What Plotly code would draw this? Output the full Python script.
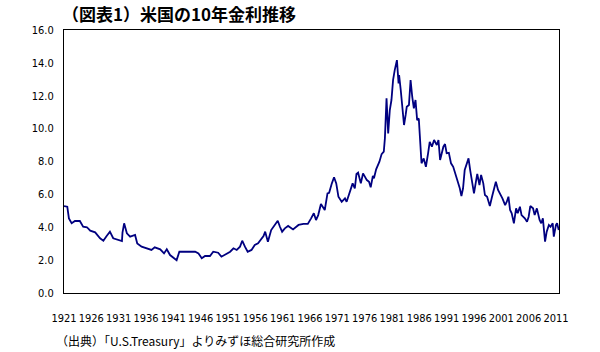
import plotly.graph_objects as go

# Data (decimal year, 10-year yield %)
years = [
    1921.0, 1921.6, 1921.9, 1922.4, 1923.0, 1923.9, 1924.5, 1925.2, 1925.8, 1926.7,
    1927.6, 1928.2, 1928.8, 1929.4, 1930.0, 1930.9, 1931.6, 1931.7, 1932.0, 1932.5,
    1933.1, 1934.0, 1934.4, 1935.2, 1936.1, 1937.0, 1937.6, 1938.6, 1939.3, 1939.8,
    1940.4, 1941.3, 1941.6, 1942.1, 1942.8, 1943.9, 1945.0, 1945.6, 1946.2, 1946.8,
    1947.7, 1948.3, 1949.2, 1949.8, 1950.8, 1951.4, 1952.0, 1952.6, 1953.2, 1953.6,
    1954.1, 1954.6, 1955.3, 1955.9, 1956.5, 1957.0, 1957.5, 1957.8, 1958.3, 1958.9,
    1959.5, 1960.1, 1960.5, 1960.9, 1961.4, 1962.0, 1962.9, 1963.9, 1964.8, 1965.6,
    1966.2, 1966.7, 1967.1, 1967.5, 1968.0, 1968.3, 1968.7, 1969.2, 1969.5, 1970.0,
    1970.4, 1970.8, 1971.2, 1971.8, 1972.4, 1972.7, 1973.3, 1973.8, 1974.2, 1974.5,
    1974.8, 1975.3, 1975.7, 1976.4, 1976.8, 1977.1, 1977.5, 1977.7, 1978.1, 1978.7,
    1979.1, 1979.5, 1979.7, 1980.0, 1980.3, 1980.6, 1980.9, 1981.2, 1981.5, 1981.9,
    1982.2, 1982.3, 1982.6, 1982.9, 1983.2, 1983.5, 1983.7, 1984.1, 1984.4, 1984.7,
    1985.0, 1985.3, 1985.6, 1985.9, 1986.1, 1986.4, 1986.8, 1987.2, 1987.6, 1987.9,
    1988.3, 1988.7, 1989.2, 1989.5, 1989.8, 1990.1, 1990.4, 1990.7, 1991.0, 1991.4,
    1991.8, 1992.2, 1992.5, 1992.8, 1993.1, 1993.4, 1993.7, 1994.0, 1994.3, 1994.7,
    1995.0, 1995.3, 1995.6, 1996.0, 1996.4, 1996.6, 1997.0, 1997.3, 1997.7, 1998.0,
    1998.4, 1998.9, 1999.3, 1999.7, 2000.0, 2000.4, 2000.9, 2001.2, 2001.7, 2002.0,
    2002.3, 2002.6, 2002.9, 2003.3, 2003.7, 2004.0, 2004.4, 2004.7, 2005.3, 2005.7,
    2006.0, 2006.3, 2006.8, 2007.1, 2007.5, 2008.0, 2008.3, 2008.6, 2009.0, 2009.3,
    2009.7, 2010.0, 2010.4, 2010.6, 2011.0, 2011.2, 2011.5,
]
rates = [
    5.29, 5.25, 4.54, 4.24, 4.38, 4.38, 4.03, 4.00, 3.79, 3.69,
    3.33, 3.18, 3.47, 3.73, 3.33, 3.22, 3.16, 3.67, 4.24, 3.63,
    3.43, 3.53, 3.02, 2.82, 2.72, 2.62, 2.78, 2.66, 2.41, 2.66,
    2.31, 2.11, 2.00, 2.51, 2.51, 2.51, 2.51, 2.41, 2.11, 2.25,
    2.25, 2.51, 2.45, 2.21, 2.41, 2.51, 2.72, 2.62, 2.82, 3.18,
    2.82, 2.51, 2.62, 2.92, 3.02, 3.27, 3.47, 3.73, 3.12, 3.83,
    4.14, 4.40, 4.03, 3.73, 3.93, 4.08, 3.87, 4.14, 4.20, 4.20,
    4.54, 4.85, 4.44, 4.74, 5.41, 5.25, 5.05, 6.06, 6.10, 6.67,
    7.04, 6.67, 5.86, 5.55, 5.76, 5.55, 6.16, 6.67, 6.37, 7.24,
    7.32, 6.67, 7.28, 6.87, 6.77, 6.43, 7.12, 6.98, 7.52, 7.99,
    8.45, 8.60, 9.41, 11.84, 9.71, 11.13, 11.74, 12.96, 13.56, 14.17,
    12.75, 13.26, 12.35, 11.13, 10.22, 10.83, 11.33, 11.44, 12.96, 11.94,
    11.23, 11.74, 10.52, 10.62, 9.31, 7.89, 8.19, 7.68, 8.50, 9.20,
    8.90, 9.31, 9.00, 9.31, 8.09, 8.60, 8.90, 9.06, 8.50, 8.53,
    7.89, 7.68, 7.38, 7.07, 6.67, 6.37, 5.90, 6.37, 7.48, 7.89,
    8.19, 7.48, 6.77, 6.06, 6.87, 7.24, 6.57, 7.18, 6.67, 5.96,
    5.86, 5.29, 5.86, 6.31, 6.77, 6.27, 5.96, 5.76, 5.35, 5.55,
    5.86, 5.05, 4.85, 4.24, 5.15, 4.85, 5.25, 4.74, 4.54, 4.34,
    4.64, 5.29, 5.15, 4.74, 5.15, 4.44, 4.24, 4.54, 3.12, 3.73,
    4.14, 4.03, 4.24, 3.43, 4.14, 4.24, 3.83,
]
x_ticks = list(range(1921, 2012, 5))
x_tick_labels = [str(y) for y in x_ticks]
title_text = "（図表1）米国の10年金利推移"
source_text = "（出典）「U.S.Treasury」よりみずほ総合研究所作成"

tick_font = dict(family="DejaVu Sans Condensed, Liberation Sans Narrow, sans-serif",
                 size=11, color="black")
jp_font = "Noto Sans CJK JP, sans-serif"

fig = go.Figure()
fig.add_trace(go.Scatter(
    x=years, y=rates, mode="lines",
    line=dict(color="#000080", width=1.8),
    showlegend=False, hoverinfo="skip",
))

fig.update_layout(
    width=600, height=352,
    margin=dict(l=64, r=41, t=30, b=59),
    paper_bgcolor="white", plot_bgcolor="white",
    xaxis=dict(
        range=[1921, 2011.55], tickmode="array", tickvals=x_ticks, ticktext=x_tick_labels,
        tickangle=0,
        showgrid=False, zeroline=False, showline=True, linecolor="black", linewidth=1,
        mirror=True, ticks="outside", ticklen=15, tickcolor="white", tickfont=tick_font,
    ),
    yaxis=dict(
        range=[0, 16], tickmode="linear", tick0=0, dtick=2, tickformat=".1f",
        showgrid=False, zeroline=False, showline=True, linecolor="black", linewidth=1,
        mirror=True, ticks="outside", ticklen=7, tickcolor="white", tickfont=tick_font,
    ),
    annotations=[
        dict(text="<b>" + title_text + "</b>", xref="paper", yref="paper",
             x=(60 - 64) / 495, y=1 + (30 - 13) / 263, xanchor="left", yanchor="middle",
             showarrow=False, font=dict(family=jp_font, size=17, color="black")),
        dict(text=source_text, xref="paper", yref="paper",
             x=(54 - 64) / 495, y=-(340 - 293) / 263, xanchor="left", yanchor="middle",
             showarrow=False, font=dict(family=jp_font, size=12, color="black")),
    ],
)

fig.write_html("out.html")
